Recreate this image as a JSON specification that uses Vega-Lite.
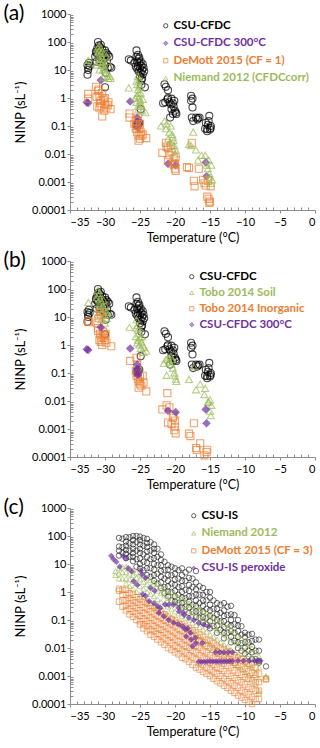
{
"$schema": "https://vega.github.io/schema/vega-lite/v6.json",
"padding": {"left": 3, "top": 3, "right": 0, "bottom": 0},
"spacing": 6,
"resolve": {"scale": {"shape": "independent", "stroke": "independent", "fill": "independent"}},
"config": {
 "view": {"stroke": null},
 "font": "Lato",
 "axis": {"domainColor": "#8c8c8c", "tickColor": "#8c8c8c", "labelFont": "Lato", "labelFontSize": 11, "labelColor": "#000", "titleFont": "Lato", "titleFontSize": 12.5, "titleFontWeight": "normal", "titleColor": "#000", "grid": false},
 "legend": {"orient": "top-right", "offset": 6, "padding": 0, "labelFont": "Lato", "labelFontSize": 11.5, "labelFontWeight": "bold", "rowPadding": 4.5, "symbolStrokeWidth": 1, "symbolSize": 18, "labelOffset": 2, "labelColor": {"expr": "indexof(['H','P'], datum.value) >= 0 ? '#7030a0' : indexof(['E','I','D'], datum.value) >= 0 ? '#ed7d31' : indexof(['M','S','N'], datum.value) >= 0 ? '#9bbb59' : '#000000'"}},
 "title": {"font": "Lato", "fontSize": 21, "fontWeight": "normal", "anchor": "start", "frame": "bounds", "offset": 0}
},
"vconcat": [
{
 "width": 245, "height": 196,
 "title": {"text": "(a)", "dy": 20, "dx": -11},
 "data": {"values": "s,t,v\nK,-32.5,15\nK,-32.4,12\nK,-32.3,18\nK,-32.5,6.8\nK,-32.2,14\nK,-32.4,10\nK,-31,100\nK,-31.1,60\nK,-30.9,75\nK,-30.8,50\nK,-31.2,40\nK,-31.4,30\nK,-31,35\nK,-30.7,65\nK,-30.6,45\nK,-30.5,30\nK,-30.4,55\nK,-30.3,40\nK,-30.2,25\nK,-30.1,35\nK,-30,50\nK,-29.9,30\nK,-29.8,40\nK,-29.7,20\nK,-29.6,35\nK,-29.4,30\nK,-29.3,13\nK,-30,2.4\nK,-29.9,8\nK,-30.5,18\nK,-30.8,22\nK,-31.2,20\nK,-30,15\nK,-29.6,12\nK,-31.3,45\nK,-30.6,80\nK,-29.1,12\nK,-26.6,24\nK,-26.3,22\nK,-25.8,18\nK,-25.5,50\nK,-25.5,30\nK,-25.4,20\nK,-25.3,35\nK,-25.3,14\nK,-25.2,25\nK,-25.1,18\nK,-25,12\nK,-25.2,9\nK,-24.9,20\nK,-24.8,14\nK,-24.7,10\nK,-24.6,7\nK,-25,6\nK,-24.8,4.5\nK,-24.6,16\nK,-24.5,12\nK,-24.4,9\nK,-24.3,2.4\nK,-24.8,3\nK,-25.4,11\nK,-25.6,13\nK,-25.1,28\nK,-24.9,8\nK,-25.3,0.12\nK,-25.5,0.11\nK,-25.1,0.13\nK,-24.7,5\nK,-24.9,0.4\nK,-21.5,3.1\nK,-21.3,2.5\nK,-21,1.9\nK,-21,1\nK,-21.7,0.65\nK,-20.8,0.7\nK,-20.5,0.95\nK,-20.3,0.65\nK,-20.5,0.4\nK,-20.3,0.27\nK,-20.7,0.2\nK,-19.8,0.27\nK,-21.1,0.9\nK,-20.2,0.5\nK,-20,0.35\nK,-20.6,0.6\nK,-21.4,0.7\nK,-20.1,0.8\nK,-19.9,0.3\nK,-17.7,1.2\nK,-17.5,0.95\nK,-17.5,0.46\nK,-17.6,0.2\nK,-17,0.2\nK,-16.5,0.2\nK,-16.8,0.17\nK,-17.4,0.15\nK,-17.7,0.8\nK,-16.7,0.19\nK,-15.1,0.23\nK,-15.6,0.13\nK,-15.3,0.11\nK,-14.9,0.1\nK,-15.4,0.077\nK,-15,0.075\nK,-15.7,0.08\nK,-15.4,0.065\nK,-15.2,0.15\nK,-14.9,0.085\nH,-32.6,0.7\nH,-32.4,0.66\nH,-30.6,4.3\nH,-26.4,0.75\nH,-25.4,0.2\nH,-25.4,0.14\nH,-25.3,0.1\nH,-25.3,0.085\nH,-21,0.0045\nH,-19.9,0.004\nH,-15.6,0.005\nH,-15.5,0.0016\nE,-32.4,1.4\nE,-32.4,0.95\nE,-31.3,2.5\nE,-31,1.8\nE,-30.8,1.2\nE,-30.6,0.8\nE,-30.5,0.5\nE,-30.4,0.22\nE,-30.8,0.45\nE,-30.2,0.9\nE,-30,0.6\nE,-29.8,0.45\nE,-29.5,0.7\nE,-29.2,0.4\nE,-30.4,1.5\nE,-31.1,0.5\nE,-30,1\nE,-29.6,0.55\nE,-30.7,0.65\nE,-31.2,1.1\nE,-30.9,2\nE,-30.1,0.35\nE,-26.5,0.28\nE,-26.5,0.2\nE,-25.8,0.12\nE,-25.6,0.08\nE,-25.4,0.06\nE,-25.2,0.045\nE,-25,0.035\nE,-25.2,0.03\nE,-24.9,0.06\nE,-24.6,0.05\nE,-24.1,0.037\nE,-25.5,0.1\nE,-25.3,0.2\nE,-25.1,0.08\nE,-24.8,0.045\nE,-25.6,0.15\nE,-25,0.12\nE,-21.8,0.011\nE,-21.3,0.025\nE,-21.2,0.018\nE,-21,0.006\nE,-20.8,0.009\nE,-20.5,0.012\nE,-20.2,0.007\nE,-20.1,0.004\nE,-20,0.003\nE,-19.9,0.0025\nE,-19.9,0.008\nE,-20.3,0.0045\nE,-21,0.016\nE,-20.6,0.02\nE,-20,0.0045\nE,-18.3,0.0034\nE,-18,0.0032\nE,-17.6,0.025\nE,-17.3,0.0011\nE,-17.2,0.0007\nE,-16.6,0.003\nE,-16,0.0012\nE,-15.8,0.0009\nE,-15.6,0.00075\nE,-15.4,0.0003\nE,-15.2,0.00025\nE,-15.1,0.00018\nE,-15,0.0002\nE,-14.9,0.0007\nE,-15.3,0.0011\nM,-32.4,22\nM,-32.5,18\nM,-31,60\nM,-30.8,50\nM,-30.6,40\nM,-30.5,30\nM,-30.4,25\nM,-30.3,20\nM,-30.2,15\nM,-30.1,12\nM,-30,10\nM,-29.9,8\nM,-29.7,6\nM,-29.5,5\nM,-29.3,6\nM,-31.1,35\nM,-30.9,25\nM,-30.7,20\nM,-30.5,15\nM,-30.3,10\nM,-30,40\nM,-29.8,30\nM,-30.6,60\nM,-30.4,45\nM,-29.6,20\nM,-31.2,15\nM,-30.8,10\nM,-30.2,5.5\nM,-29.2,5\nM,-30.9,70\nM,-31,45\nM,-26.6,2.3\nM,-25.7,1\nM,-25.5,4\nM,-25.4,3\nM,-25.3,2\nM,-25.2,1.5\nM,-25.1,1\nM,-25,0.8\nM,-24.9,0.6\nM,-24.8,0.5\nM,-24.7,0.35\nM,-24.2,0.3\nM,-25.3,0.5\nM,-25.2,0.4\nM,-25.4,1.2\nM,-25.1,3\nM,-24.9,1.5\nM,-24.6,0.9\nM,-25.5,0.7\nM,-25,2.5\nM,-25.3,6\nM,-25.1,4.5\nM,-22,0.1\nM,-21.5,0.15\nM,-21.2,0.12\nM,-21,0.035\nM,-20.8,0.06\nM,-20.6,0.1\nM,-20.4,0.05\nM,-20.2,0.03\nM,-20.1,0.02\nM,-20,0.015\nM,-20.3,0.04\nM,-21.3,0.08\nM,-20.7,0.025\nM,-20,0.01\nM,-18,0.022\nM,-17.7,0.02\nM,-17.4,0.06\nM,-17,0.014\nM,-16.7,0.006\nM,-16.2,0.009\nM,-15.7,0.009\nM,-15.5,0.004\nM,-15.3,0.003\nM,-15.1,0.002\nM,-15,0.0015\nM,-14.8,0.004\nM,-14.7,0.0012\nM,-15.2,0.006\nM,-14.9,0.0009", "format": {"type": "csv", "parse": {"t": "number", "v": "number"}}},
 "mark": {"type": "point", "size": 50, "strokeWidth": 1.1},
 "encoding": {
  "x": {"field": "t", "type": "quantitative", "scale": {"domain": [-35, 0], "nice": false}, "axis": {"title": "Temperature (°C)", "values": [-35,-34,-33,-32,-31,-30,-29,-28,-27,-26,-25,-24,-23,-22,-21,-20,-19,-18,-17,-16,-15,-14,-13,-12,-11,-10,-9,-8,-7,-6,-5,-4,-3,-2,-1,0], "labelExpr": "datum.value % 5 === 0 ? datum.label : ''", "labelOverlap": false, "tickSize": {"condition": {"test": "datum.value % 5 === 0", "value": 3}, "value": -3}, "labelPadding": 3}},
  "y": {"field": "v", "type": "quantitative", "scale": {"type": "log", "domain": [0.0001, 1000], "nice": false}, "axis": {"title": "NINP (sL⁻¹)", "titleFontSize": 13, "values": [0.0001,0.0002,0.0003,0.0004,0.0005,0.0006,0.0007,0.0008,0.0009,0.001,0.002,0.003,0.004,0.005,0.006,0.007,0.008,0.009,0.01,0.02,0.03,0.04,0.05,0.06,0.07,0.08,0.09,0.1,0.2,0.3,0.4,0.5,0.6,0.7,0.8,0.9,1,2,3,4,5,6,7,8,9,10,20,30,40,50,60,70,80,90,100,200,300,400,500,600,700,800,900,1000], "format": "~g", "labelExpr": "abs(log(datum.value)/LN10 - round(log(datum.value)/LN10)) < 0.000001 ? datum.label : ''", "labelOverlap": false, "tickSize": {"condition": {"test": "abs(log(datum.value)/LN10 - round(log(datum.value)/LN10)) < 0.000001", "value": 3}, "value": -3}, "labelPadding": 1, "titlePadding": 4}},
  "shape": {"field": "s", "type": "nominal", "scale": {"domain": ["K", "H", "E", "M"], "range": ["circle", "diamond", "square", "triangle-up"]}, "legend": {"title": null, "labelExpr": "{'K':'CSU-CFDC','H':'CSU-CFDC 300°C','E':'DeMott 2015 (CF = 1)','M':'Niemand 2012 (CFDCcorr)','S':'Tobo 2014 Soil','I':'Tobo 2014 Inorganic','C':'CSU-IS','N':'Niemand 2012','D':'DeMott 2015 (CF = 3)','P':'CSU-IS peroxide'}[datum.value]"}},
  "stroke": {"field": "s", "type": "nominal", "scale": {"domain": ["K", "H", "E", "M"], "range": ["#000000", "#7030a0", "#ed7d31", "#9bbb59"]}, "legend": null},
  "fill": {"field": "s", "type": "nominal", "scale": {"domain": ["K", "H", "E", "M"], "range": ["transparent", "#7030a0", "transparent", "transparent"]}, "legend": null}
 }
},
{
 "width": 245, "height": 196,
 "title": {"text": "(b)", "dy": 20, "dx": -11},
 "data": {"values": "s,t,v\nK,-32.5,15\nK,-32.4,12\nK,-32.3,18\nK,-32.5,6.8\nK,-32.2,14\nK,-32.4,10\nK,-31,100\nK,-31.1,60\nK,-30.9,75\nK,-30.8,50\nK,-31.2,40\nK,-31.4,30\nK,-31,35\nK,-30.7,65\nK,-30.6,45\nK,-30.5,30\nK,-30.4,55\nK,-30.3,40\nK,-30.2,25\nK,-30.1,35\nK,-30,50\nK,-29.9,30\nK,-29.8,40\nK,-29.7,20\nK,-29.6,35\nK,-29.4,30\nK,-29.3,13\nK,-30,2.4\nK,-29.9,8\nK,-30.5,18\nK,-30.8,22\nK,-31.2,20\nK,-30,15\nK,-29.6,12\nK,-31.3,45\nK,-30.6,80\nK,-29.1,12\nK,-26.6,24\nK,-26.3,22\nK,-25.8,18\nK,-25.5,50\nK,-25.5,30\nK,-25.4,20\nK,-25.3,35\nK,-25.3,14\nK,-25.2,25\nK,-25.1,18\nK,-25,12\nK,-25.2,9\nK,-24.9,20\nK,-24.8,14\nK,-24.7,10\nK,-24.6,7\nK,-25,6\nK,-24.8,4.5\nK,-24.6,16\nK,-24.5,12\nK,-24.4,9\nK,-24.3,2.4\nK,-24.8,3\nK,-25.4,11\nK,-25.6,13\nK,-25.1,28\nK,-24.9,8\nK,-25.3,0.12\nK,-25.5,0.11\nK,-25.1,0.13\nK,-24.7,5\nK,-24.9,0.4\nK,-21.5,3.1\nK,-21.3,2.5\nK,-21,1.9\nK,-21,1\nK,-21.7,0.65\nK,-20.8,0.7\nK,-20.5,0.95\nK,-20.3,0.65\nK,-20.5,0.4\nK,-20.3,0.27\nK,-20.7,0.2\nK,-19.8,0.27\nK,-21.1,0.9\nK,-20.2,0.5\nK,-20,0.35\nK,-20.6,0.6\nK,-21.4,0.7\nK,-20.1,0.8\nK,-19.9,0.3\nK,-17.7,1.2\nK,-17.5,0.95\nK,-17.5,0.46\nK,-17.6,0.2\nK,-17,0.2\nK,-16.5,0.2\nK,-16.8,0.17\nK,-17.4,0.15\nK,-17.7,0.8\nK,-16.7,0.19\nK,-15.1,0.23\nK,-15.6,0.13\nK,-15.3,0.11\nK,-14.9,0.1\nK,-15.4,0.077\nK,-15,0.075\nK,-15.7,0.08\nK,-15.4,0.065\nK,-15.2,0.15\nK,-14.9,0.085\nS,-32.4,33\nS,-31,90\nS,-30.9,60\nS,-30.7,45\nS,-30.5,35\nS,-30.3,25\nS,-30.1,18\nS,-30,12\nS,-29.8,9\nS,-30.6,20\nS,-30.4,15\nS,-30.8,30\nS,-31.2,50\nS,-31,20\nS,-30.2,40\nS,-29.9,25\nS,-29.6,12\nS,-30.5,8\nS,-31.1,12\nS,-30,6\nS,-30.8,70\nS,-29.7,15\nS,-26.5,4.3\nS,-25.5,8\nS,-25.4,5\nS,-25.3,3.5\nS,-25.2,2.5\nS,-25,1.8\nS,-24.8,1.3\nS,-24.6,1\nS,-24.4,0.8\nS,-24.1,0.6\nS,-25.6,2\nS,-25.3,1.5\nS,-25.1,1\nS,-24.9,0.75\nS,-25.5,4\nS,-24.7,2\nS,-25.4,1.2\nS,-24.5,0.55\nS,-21.6,0.22\nS,-21.3,0.3\nS,-21,0.35\nS,-20.8,0.25\nS,-20.5,0.2\nS,-20.3,0.15\nS,-20.1,0.1\nS,-19.9,0.06\nS,-19.8,0.05\nS,-21.2,0.083\nS,-20.6,0.4\nS,-20,0.08\nS,-20.4,0.3\nS,-18,0.059\nS,-17.3,0.17\nS,-17,0.025\nS,-16.4,0.04\nS,-15.7,0.028\nS,-15.8,0.017\nS,-15.3,0.009\nS,-15,0.011\nS,-14.8,0.007\nS,-15,0.0043\nS,-14.9,0.003\nS,-15.2,0.0094\nI,-32.4,7\nI,-32.3,6.5\nI,-30.7,15\nI,-30.6,12\nI,-30.9,9\nI,-31.1,6\nI,-31,4\nI,-30.7,2.5\nI,-30.5,2\nI,-30.3,3\nI,-30.1,2.2\nI,-30,1.5\nI,-29.8,1.2\nI,-30.6,1.3\nI,-30.4,1\nI,-29.1,0.9\nI,-30.8,1.5\nI,-30.2,1.8\nI,-29.9,2.5\nI,-31,3.2\nI,-26.4,0.27\nI,-25.5,0.35\nI,-25.4,0.2\nI,-25.6,0.12\nI,-25.5,0.08\nI,-25.3,0.06\nI,-25.1,0.05\nI,-25,0.04\nI,-24.8,0.035\nI,-25.2,0.03\nI,-24.5,0.045\nI,-24.1,0.022\nI,-25.4,0.1\nI,-25,0.07\nI,-24.6,0.08\nI,-21.1,0.019\nI,-21.8,0.005\nI,-21.2,0.007\nI,-20.8,0.006\nI,-21,0.0017\nI,-20.5,0.0015\nI,-20.2,0.003\nI,-20,0.002\nI,-20,0.0012\nI,-20.1,0.0009\nI,-19.9,0.0007\nI,-20.3,0.0025\nI,-18,0.00068\nI,-17.8,0.00056\nI,-17.3,0.0016\nI,-17,0.00021\nI,-16.9,0.00018\nI,-16.4,0.00031\nI,-15.8,0.000115\nI,-15.4,0.00018\nI,-15.5,0.00015\nH,-32.6,0.7\nH,-32.4,0.66\nH,-30.6,4.3\nH,-26.4,0.75\nH,-25.4,0.2\nH,-25.4,0.14\nH,-25.3,0.1\nH,-25.3,0.085\nH,-21,0.0045\nH,-19.9,0.004\nH,-15.6,0.005\nH,-15.5,0.0016", "format": {"type": "csv", "parse": {"t": "number", "v": "number"}}},
 "mark": {"type": "point", "size": 50, "strokeWidth": 1.1},
 "encoding": {
  "x": {"field": "t", "type": "quantitative", "scale": {"domain": [-35, 0], "nice": false}, "axis": {"title": "Temperature (°C)", "values": [-35,-34,-33,-32,-31,-30,-29,-28,-27,-26,-25,-24,-23,-22,-21,-20,-19,-18,-17,-16,-15,-14,-13,-12,-11,-10,-9,-8,-7,-6,-5,-4,-3,-2,-1,0], "labelExpr": "datum.value % 5 === 0 ? datum.label : ''", "labelOverlap": false, "tickSize": {"condition": {"test": "datum.value % 5 === 0", "value": 3}, "value": -3}, "labelPadding": 3}},
  "y": {"field": "v", "type": "quantitative", "scale": {"type": "log", "domain": [0.0001, 1000], "nice": false}, "axis": {"title": "NINP (sL⁻¹)", "titleFontSize": 13, "values": [0.0001,0.0002,0.0003,0.0004,0.0005,0.0006,0.0007,0.0008,0.0009,0.001,0.002,0.003,0.004,0.005,0.006,0.007,0.008,0.009,0.01,0.02,0.03,0.04,0.05,0.06,0.07,0.08,0.09,0.1,0.2,0.3,0.4,0.5,0.6,0.7,0.8,0.9,1,2,3,4,5,6,7,8,9,10,20,30,40,50,60,70,80,90,100,200,300,400,500,600,700,800,900,1000], "format": "~g", "labelExpr": "abs(log(datum.value)/LN10 - round(log(datum.value)/LN10)) < 0.000001 ? datum.label : ''", "labelOverlap": false, "tickSize": {"condition": {"test": "abs(log(datum.value)/LN10 - round(log(datum.value)/LN10)) < 0.000001", "value": 3}, "value": -3}, "labelPadding": 1, "titlePadding": 4}},
  "shape": {"field": "s", "type": "nominal", "scale": {"domain": ["K", "S", "I", "H"], "range": ["circle", "triangle-up", "square", "diamond"]}, "legend": {"title": null, "offset": 10, "rowPadding": 3, "labelExpr": "{'K':'CSU-CFDC','H':'CSU-CFDC 300°C','E':'DeMott 2015 (CF = 1)','M':'Niemand 2012 (CFDCcorr)','S':'Tobo 2014 Soil','I':'Tobo 2014 Inorganic','C':'CSU-IS','N':'Niemand 2012','D':'DeMott 2015 (CF = 3)','P':'CSU-IS peroxide'}[datum.value]"}},
  "stroke": {"field": "s", "type": "nominal", "scale": {"domain": ["K", "S", "I", "H"], "range": ["#000000", "#9bbb59", "#ed7d31", "#7030a0"]}, "legend": null},
  "fill": {"field": "s", "type": "nominal", "scale": {"domain": ["K", "S", "I", "H"], "range": ["transparent", "transparent", "transparent", "#7030a0"]}, "legend": null}
 }
},
{
 "width": 245, "height": 196,
 "title": {"text": "(c)", "dy": 20, "dx": -11},
 "data": {"values": "s,t,v\nC,-28,85\nC,-28,42\nC,-28,30\nC,-28,20\nC,-27.5,80\nC,-27.5,40\nC,-27.5,25\nC,-27,91\nC,-27,63\nC,-27,45\nC,-27,32\nC,-27,23\nC,-27,16\nC,-26.5,90\nC,-26.5,55\nC,-26.5,30\nC,-26.5,18\nC,-26,100\nC,-26,71\nC,-26,50\nC,-26,35\nC,-26,25\nC,-26,18\nC,-26,12.6\nC,-25.5,100\nC,-25.5,60\nC,-25.5,30\nC,-25.5,15\nC,-25.5,8\nC,-25,95\nC,-25,71\nC,-25,50\nC,-25,35\nC,-25,25\nC,-25,16\nC,-25,10\nC,-25,7\nC,-24.5,85\nC,-24.5,45\nC,-24.5,22\nC,-24.5,12\nC,-24.5,6\nC,-24,79\nC,-24,56\nC,-24,40\nC,-24,28\nC,-24,18\nC,-24,11\nC,-24,7\nC,-24,4\nC,-23.5,60\nC,-23.5,30\nC,-23.5,15\nC,-23.5,7\nC,-23.5,3.5\nC,-23,50\nC,-23,35\nC,-23,25\nC,-23,16\nC,-23,10\nC,-23,6.3\nC,-23,4\nC,-23,2.5\nC,-22.5,35\nC,-22.5,18\nC,-22.5,9\nC,-22.5,4.5\nC,-22.5,2\nC,-22,22\nC,-22,14\nC,-22,9\nC,-22,5.6\nC,-22,3.5\nC,-22,2.2\nC,-22,1.4\nC,-21.5,12\nC,-21.5,6\nC,-21.5,3\nC,-21.5,1.5\nC,-21.5,0.9\nC,-21,9\nC,-21,6.3\nC,-21,4\nC,-21,2.5\nC,-21,1.6\nC,-21,1\nC,-21,0.7\nC,-20.5,8\nC,-20.5,4\nC,-20.5,2\nC,-20.5,1\nC,-20.5,0.5\nC,-20,7\nC,-20,4.5\nC,-20,2.8\nC,-20,1.8\nC,-20,1.1\nC,-20,0.7\nC,-20,0.45\nC,-19.5,6\nC,-19.5,3\nC,-19.5,1.5\nC,-19.5,0.8\nC,-19.5,0.4\nC,-19,7\nC,-19,4\nC,-19,2.5\nC,-19,1.6\nC,-19,1\nC,-19,0.63\nC,-19,0.4\nC,-19,0.28\nC,-18.5,5\nC,-18.5,2.5\nC,-18.5,1.2\nC,-18.5,0.6\nC,-18.5,0.3\nC,-18,6.3\nC,-18,3.2\nC,-18,1.8\nC,-18,1.1\nC,-18,0.7\nC,-18,0.45\nC,-18,0.28\nC,-18,0.18\nC,-17.5,3\nC,-17.5,1.5\nC,-17.5,0.7\nC,-17.5,0.35\nC,-17.5,0.2\nC,-17,5.6\nC,-17,2.2\nC,-17,1.26\nC,-17,0.8\nC,-17,0.5\nC,-17,0.32\nC,-17,0.2\nC,-17,0.126\nC,-16.5,1.6\nC,-16.5,0.8\nC,-16.5,0.4\nC,-16.5,0.2\nC,-16.5,0.12\nC,-16,1.4\nC,-16,0.8\nC,-16,0.5\nC,-16,0.32\nC,-16,0.2\nC,-16,0.126\nC,-16,0.08\nC,-15.5,1\nC,-15.5,0.5\nC,-15.5,0.25\nC,-15.5,0.12\nC,-15.5,0.07\nC,-15,1\nC,-15,0.63\nC,-15,0.35\nC,-15,0.22\nC,-15,0.14\nC,-15,0.09\nC,-15,0.05\nC,-14.5,0.5\nC,-14.5,0.25\nC,-14.5,0.12\nC,-14.5,0.06\nC,-14,0.4\nC,-14,0.25\nC,-14,0.16\nC,-14,0.1\nC,-14,0.063\nC,-14,0.035\nC,-13.5,0.35\nC,-13.5,0.18\nC,-13.5,0.09\nC,-13.5,0.045\nC,-13,0.4\nC,-13,0.22\nC,-13,0.14\nC,-13,0.09\nC,-13,0.056\nC,-13,0.035\nC,-13,0.022\nC,-12.5,0.3\nC,-12.5,0.15\nC,-12.5,0.07\nC,-12.5,0.035\nC,-12,0.32\nC,-12,0.16\nC,-12,0.1\nC,-12,0.063\nC,-12,0.04\nC,-12,0.025\nC,-12,0.016\nC,-11.5,0.15\nC,-11.5,0.07\nC,-11.5,0.035\nC,-11.5,0.018\nC,-11,0.1\nC,-11,0.063\nC,-11,0.04\nC,-11,0.025\nC,-11,0.016\nC,-11,0.01\nC,-10.5,0.06\nC,-10.5,0.03\nC,-10.5,0.015\nC,-10.5,0.008\nC,-10,0.035\nC,-10,0.025\nC,-10,0.016\nC,-10,0.01\nC,-10,0.0063\nC,-9.5,0.03\nC,-9.5,0.016\nC,-9.5,0.008\nC,-9.5,0.005\nC,-9,0.032\nC,-9,0.018\nC,-9,0.011\nC,-9,0.007\nC,-9,0.004\nC,-8.5,0.02\nC,-8.5,0.008\nC,-8.5,0.004\nC,-8,0.02\nC,-8,0.008\nC,-8,0.0035\nC,-8,0.003\nC,-7,0.0022\nN,-28.5,5.6\nN,-28.5,4\nN,-28,7\nN,-28,4.5\nN,-28,3\nN,-27.5,8\nN,-27.5,5\nN,-27.5,3\nN,-27,8\nN,-27,5\nN,-27,3\nN,-27,2\nN,-26.5,7\nN,-26.5,4.5\nN,-26.5,2.8\nN,-26.5,1.6\nN,-26,6\nN,-26,4\nN,-26,2.5\nN,-26,1.3\nN,-25.5,5\nN,-25.5,3.2\nN,-25.5,2\nN,-25.5,1\nN,-25,4.5\nN,-25,2.8\nN,-25,1.6\nN,-25,0.8\nN,-24.5,3.8\nN,-24.5,2.3\nN,-24.5,1.3\nN,-24.5,0.65\nN,-24,3.2\nN,-24,1.9\nN,-24,1\nN,-24,0.5\nN,-23.5,2.7\nN,-23.5,1.6\nN,-23.5,0.85\nN,-23.5,0.4\nN,-23,2.2\nN,-23,1.3\nN,-23,0.7\nN,-23,0.32\nN,-22.5,1.9\nN,-22.5,1.1\nN,-22.5,0.55\nN,-22.5,0.27\nN,-22,1.6\nN,-22,0.9\nN,-22,0.45\nN,-22,0.22\nN,-21.5,1.3\nN,-21.5,0.75\nN,-21.5,0.38\nN,-21.5,0.17\nN,-21,1.1\nN,-21,0.6\nN,-21,0.3\nN,-21,0.14\nN,-20.5,0.95\nN,-20.5,0.5\nN,-20.5,0.25\nN,-20.5,0.12\nN,-20,0.8\nN,-20,0.42\nN,-20,0.2\nN,-20,0.1\nN,-19.5,0.65\nN,-19.5,0.35\nN,-19.5,0.17\nN,-19.5,0.08\nN,-19,0.56\nN,-19,0.3\nN,-19,0.14\nN,-19,0.07\nN,-18.5,0.48\nN,-18.5,0.25\nN,-18.5,0.12\nN,-18.5,0.058\nN,-18,0.4\nN,-18,0.2\nN,-18,0.1\nN,-18,0.05\nN,-17.5,0.33\nN,-17.5,0.17\nN,-17.5,0.08\nN,-17.5,0.04\nN,-17,0.28\nN,-17,0.14\nN,-17,0.065\nN,-17,0.032\nN,-16.5,0.24\nN,-16.5,0.12\nN,-16.5,0.055\nN,-16.5,0.026\nN,-16,0.2\nN,-16,0.1\nN,-16,0.045\nN,-16,0.02\nN,-15.5,0.17\nN,-15.5,0.085\nN,-15.5,0.038\nN,-15.5,0.017\nN,-15,0.14\nN,-15,0.07\nN,-15,0.03\nN,-15,0.014\nN,-14.5,0.12\nN,-14.5,0.055\nN,-14.5,0.025\nN,-14.5,0.011\nN,-14,0.1\nN,-14,0.045\nN,-14,0.02\nN,-14,0.009\nN,-13.5,0.085\nN,-13.5,0.038\nN,-13.5,0.016\nN,-13.5,0.007\nN,-13,0.07\nN,-13,0.03\nN,-13,0.013\nN,-13,0.0056\nN,-12.5,0.055\nN,-12.5,0.025\nN,-12.5,0.011\nN,-12.5,0.0045\nN,-12,0.045\nN,-12,0.02\nN,-12,0.0085\nN,-12,0.0035\nN,-11.5,0.035\nN,-11.5,0.016\nN,-11.5,0.007\nN,-11.5,0.0028\nN,-11,0.028\nN,-11,0.013\nN,-11,0.0055\nN,-11,0.0022\nN,-10.5,0.022\nN,-10.5,0.01\nN,-10.5,0.0045\nN,-10.5,0.0018\nN,-10,0.018\nN,-10,0.008\nN,-10,0.0035\nN,-10,0.0014\nN,-9.5,0.013\nN,-9.5,0.006\nN,-9.5,0.0026\nN,-9.5,0.0011\nN,-9,0.01\nN,-9,0.0045\nN,-9,0.002\nN,-9,0.0008\nN,-8.5,0.007\nN,-8.5,0.003\nN,-8.5,0.0013\nN,-8.5,0.0005\nN,-8,0.005\nN,-8,0.002\nN,-8,0.0008\nN,-8,0.0003\nN,-8,0.00025\nN,-7,0.001\nN,-7,0.0009\nD,-28,1.3\nD,-28,1.1\nD,-28,0.45\nD,-27.5,1.2\nD,-27.5,0.8\nD,-27.5,0.5\nD,-27.5,0.3\nD,-27,1.2\nD,-27,0.8\nD,-27,0.5\nD,-27,0.32\nD,-27,0.22\nD,-26.5,0.9\nD,-26.5,0.6\nD,-26.5,0.4\nD,-26.5,0.25\nD,-26.5,0.16\nD,-26,0.8\nD,-26,0.5\nD,-26,0.32\nD,-26,0.2\nD,-26,0.13\nD,-25.5,0.65\nD,-25.5,0.42\nD,-25.5,0.27\nD,-25.5,0.17\nD,-25.5,0.1\nD,-25,0.55\nD,-25,0.35\nD,-25,0.22\nD,-25,0.14\nD,-25,0.09\nD,-25,0.07\nD,-24.5,0.45\nD,-24.5,0.28\nD,-24.5,0.18\nD,-24.5,0.11\nD,-24.5,0.07\nD,-24.5,0.05\nD,-24,0.4\nD,-24,0.25\nD,-24,0.15\nD,-24,0.09\nD,-24,0.06\nD,-24,0.04\nD,-23.5,0.32\nD,-23.5,0.2\nD,-23.5,0.12\nD,-23.5,0.075\nD,-23.5,0.045\nD,-23.5,0.03\nD,-23,0.28\nD,-23,0.17\nD,-23,0.1\nD,-23,0.06\nD,-23,0.04\nD,-23,0.025\nD,-22.5,0.22\nD,-22.5,0.14\nD,-22.5,0.085\nD,-22.5,0.05\nD,-22.5,0.032\nD,-22.5,0.02\nD,-22,0.2\nD,-22,0.12\nD,-22,0.07\nD,-22,0.045\nD,-22,0.028\nD,-22,0.016\nD,-21.5,0.16\nD,-21.5,0.1\nD,-21.5,0.06\nD,-21.5,0.036\nD,-21.5,0.022\nD,-21.5,0.013\nD,-21,0.14\nD,-21,0.085\nD,-21,0.05\nD,-21,0.03\nD,-21,0.018\nD,-21,0.01\nD,-20.5,0.11\nD,-20.5,0.07\nD,-20.5,0.042\nD,-20.5,0.025\nD,-20.5,0.015\nD,-20.5,0.0085\nD,-20,0.1\nD,-20,0.06\nD,-20,0.035\nD,-20,0.02\nD,-20,0.012\nD,-20,0.007\nD,-19.5,0.08\nD,-19.5,0.048\nD,-19.5,0.028\nD,-19.5,0.017\nD,-19.5,0.01\nD,-19.5,0.006\nD,-19,0.07\nD,-19,0.042\nD,-19,0.025\nD,-19,0.014\nD,-19,0.008\nD,-19,0.0045\nD,-18.5,0.058\nD,-18.5,0.035\nD,-18.5,0.02\nD,-18.5,0.012\nD,-18.5,0.007\nD,-18.5,0.004\nD,-18,0.05\nD,-18,0.03\nD,-18,0.017\nD,-18,0.01\nD,-18,0.0055\nD,-18,0.0032\nD,-17.5,0.042\nD,-17.5,0.025\nD,-17.5,0.014\nD,-17.5,0.008\nD,-17.5,0.0045\nD,-17.5,0.0025\nD,-17,0.035\nD,-17,0.02\nD,-17,0.012\nD,-17,0.007\nD,-17,0.004\nD,-17,0.002\nD,-16.5,0.03\nD,-16.5,0.017\nD,-16.5,0.01\nD,-16.5,0.0055\nD,-16.5,0.003\nD,-16.5,0.0017\nD,-16,0.025\nD,-16,0.014\nD,-16,0.008\nD,-16,0.0045\nD,-16,0.0025\nD,-16,0.0014\nD,-15.5,0.02\nD,-15.5,0.012\nD,-15.5,0.007\nD,-15.5,0.004\nD,-15.5,0.002\nD,-15.5,0.0012\nD,-15,0.018\nD,-15,0.01\nD,-15,0.0055\nD,-15,0.003\nD,-15,0.0017\nD,-15,0.001\nD,-14.5,0.015\nD,-14.5,0.0085\nD,-14.5,0.0045\nD,-14.5,0.0025\nD,-14.5,0.0014\nD,-14.5,0.0008\nD,-14,0.012\nD,-14,0.007\nD,-14,0.004\nD,-14,0.002\nD,-14,0.0012\nD,-14,0.00065\nD,-13.5,0.01\nD,-13.5,0.006\nD,-13.5,0.0033\nD,-13.5,0.0018\nD,-13.5,0.001\nD,-13.5,0.00055\nD,-13,0.009\nD,-13,0.005\nD,-13,0.0028\nD,-13,0.0015\nD,-13,0.0008\nD,-13,0.00045\nD,-12.5,0.0075\nD,-12.5,0.0042\nD,-12.5,0.0023\nD,-12.5,0.0012\nD,-12.5,0.00065\nD,-12.5,0.00038\nD,-12,0.0063\nD,-12,0.0035\nD,-12,0.002\nD,-12,0.001\nD,-12,0.00055\nD,-12,0.0003\nD,-11.5,0.0055\nD,-11.5,0.003\nD,-11.5,0.0016\nD,-11.5,0.00085\nD,-11.5,0.00045\nD,-11.5,0.00025\nD,-11,0.0045\nD,-11,0.0025\nD,-11,0.0013\nD,-11,0.0007\nD,-11,0.00038\nD,-11,0.0002\nD,-10.5,0.004\nD,-10.5,0.0022\nD,-10.5,0.0011\nD,-10.5,0.0006\nD,-10.5,0.0003\nD,-10.5,0.00017\nD,-10,0.0032\nD,-10,0.0018\nD,-10,0.0009\nD,-10,0.0005\nD,-10,0.00026\nD,-10,0.00014\nD,-9.5,0.0028\nD,-9.5,0.0015\nD,-9.5,0.0008\nD,-9.5,0.0004\nD,-9.5,0.00022\nD,-9.5,0.00012\nD,-9,0.0025\nD,-9,0.0013\nD,-9,0.0007\nD,-9,0.00035\nD,-9,0.00018\nD,-9,0.0001\nD,-8.5,0.002\nD,-8.5,0.0011\nD,-8.5,0.0006\nD,-8.5,0.0003\nD,-8.5,0.00015\nD,-8,0.0012\nD,-8,0.0006\nD,-8,0.0003\nD,-8,0.00015\nD,-7,0.0008\nD,-7,0.00075\nP,-29.1,19.5\nP,-28.8,15\nP,-28.4,12\nP,-27.9,8\nP,-27.4,19.5\nP,-27,16\nP,-26.7,7\nP,-26.2,5.5\nP,-25.9,2.4\nP,-25.4,1.8\nP,-24.9,5.8\nP,-24.7,4.2\nP,-24.2,3.2\nP,-23.5,1.4\nP,-22.9,1.1\nP,-24.6,0.83\nP,-24.2,0.72\nP,-23.7,0.47\nP,-23,0.4\nP,-22.5,0.31\nP,-22.1,0.27\nP,-21.4,0.36\nP,-20.9,0.35\nP,-20.2,0.35\nP,-19.5,0.27\nP,-18.8,0.18\nP,-22.3,0.18\nP,-21.6,0.135\nP,-20.9,0.1\nP,-20.2,0.08\nP,-19.5,0.07\nP,-18.5,0.046\nP,-17.8,0.035\nP,-17.1,0.023\nP,-19.4,0.2\nP,-18.7,0.15\nP,-18,0.12\nP,-17.3,0.1\nP,-16.6,0.078\nP,-15.9,0.068\nP,-15.2,0.059\nP,-18.9,0.059\nP,-18.2,0.05\nP,-18.4,0.026\nP,-17.7,0.02\nP,-17,0.015\nP,-17.5,0.0115\nP,-16.1,0.015\nP,-16.6,0.0032\nP,-16.2,0.0032\nP,-15.8,0.0032\nP,-15.4,0.0033\nP,-15,0.0033\nP,-14.6,0.0033\nP,-14.2,0.0033\nP,-13.8,0.0033\nP,-13.4,0.0033\nP,-13,0.0033\nP,-12.6,0.0033\nP,-12.2,0.0034\nP,-11.8,0.0034\nP,-11,0.0035\nP,-10.2,0.0035\nP,-9.4,0.0035\nP,-8.6,0.0035\nP,-8.2,0.0035\nP,-7.8,0.0035\nP,-14.2,0.007\nP,-13.6,0.007\nP,-13,0.007\nP,-12.4,0.007\nP,-11.8,0.007", "format": {"type": "csv", "parse": {"t": "number", "v": "number"}}},
 "mark": {"type": "point", "size": 30, "strokeWidth": 0.9},
 "encoding": {
  "x": {"field": "t", "type": "quantitative", "scale": {"domain": [-35, 0], "nice": false}, "axis": {"title": "Temperature (°C)", "values": [-35,-34,-33,-32,-31,-30,-29,-28,-27,-26,-25,-24,-23,-22,-21,-20,-19,-18,-17,-16,-15,-14,-13,-12,-11,-10,-9,-8,-7,-6,-5,-4,-3,-2,-1,0], "labelExpr": "datum.value % 5 === 0 ? datum.label : ''", "labelOverlap": false, "tickSize": {"condition": {"test": "datum.value % 5 === 0", "value": 3}, "value": -3}, "labelPadding": 3}},
  "y": {"field": "v", "type": "quantitative", "scale": {"type": "log", "domain": [0.0001, 1000], "nice": false}, "axis": {"title": "NINP (sL⁻¹)", "titleFontSize": 13, "values": [0.0001,0.0002,0.0003,0.0004,0.0005,0.0006,0.0007,0.0008,0.0009,0.001,0.002,0.003,0.004,0.005,0.006,0.007,0.008,0.009,0.01,0.02,0.03,0.04,0.05,0.06,0.07,0.08,0.09,0.1,0.2,0.3,0.4,0.5,0.6,0.7,0.8,0.9,1,2,3,4,5,6,7,8,9,10,20,30,40,50,60,70,80,90,100,200,300,400,500,600,700,800,900,1000], "format": "~g", "labelExpr": "abs(log(datum.value)/LN10 - round(log(datum.value)/LN10)) < 0.000001 ? datum.label : ''", "labelOverlap": false, "tickSize": {"condition": {"test": "abs(log(datum.value)/LN10 - round(log(datum.value)/LN10)) < 0.000001", "value": 3}, "value": -3}, "labelPadding": 1, "titlePadding": 4}},
  "shape": {"field": "s", "type": "nominal", "scale": {"domain": ["C", "N", "D", "P"], "range": ["circle", "triangle-up", "square", "diamond"]}, "legend": {"title": null, "offset": 2, "labelExpr": "{'K':'CSU-CFDC','H':'CSU-CFDC 300°C','E':'DeMott 2015 (CF = 1)','M':'Niemand 2012 (CFDCcorr)','S':'Tobo 2014 Soil','I':'Tobo 2014 Inorganic','C':'CSU-IS','N':'Niemand 2012','D':'DeMott 2015 (CF = 3)','P':'CSU-IS peroxide'}[datum.value]"}},
  "stroke": {"field": "s", "type": "nominal", "scale": {"domain": ["C", "N", "D", "P"], "range": ["#1a1a1a", "#9bbb59", "#ed7d31", "#7030a0"]}, "legend": null},
  "fill": {"field": "s", "type": "nominal", "scale": {"domain": ["C", "N", "D", "P"], "range": ["transparent", "transparent", "transparent", "#7030a0"]}, "legend": null}
 }
}
]
}
